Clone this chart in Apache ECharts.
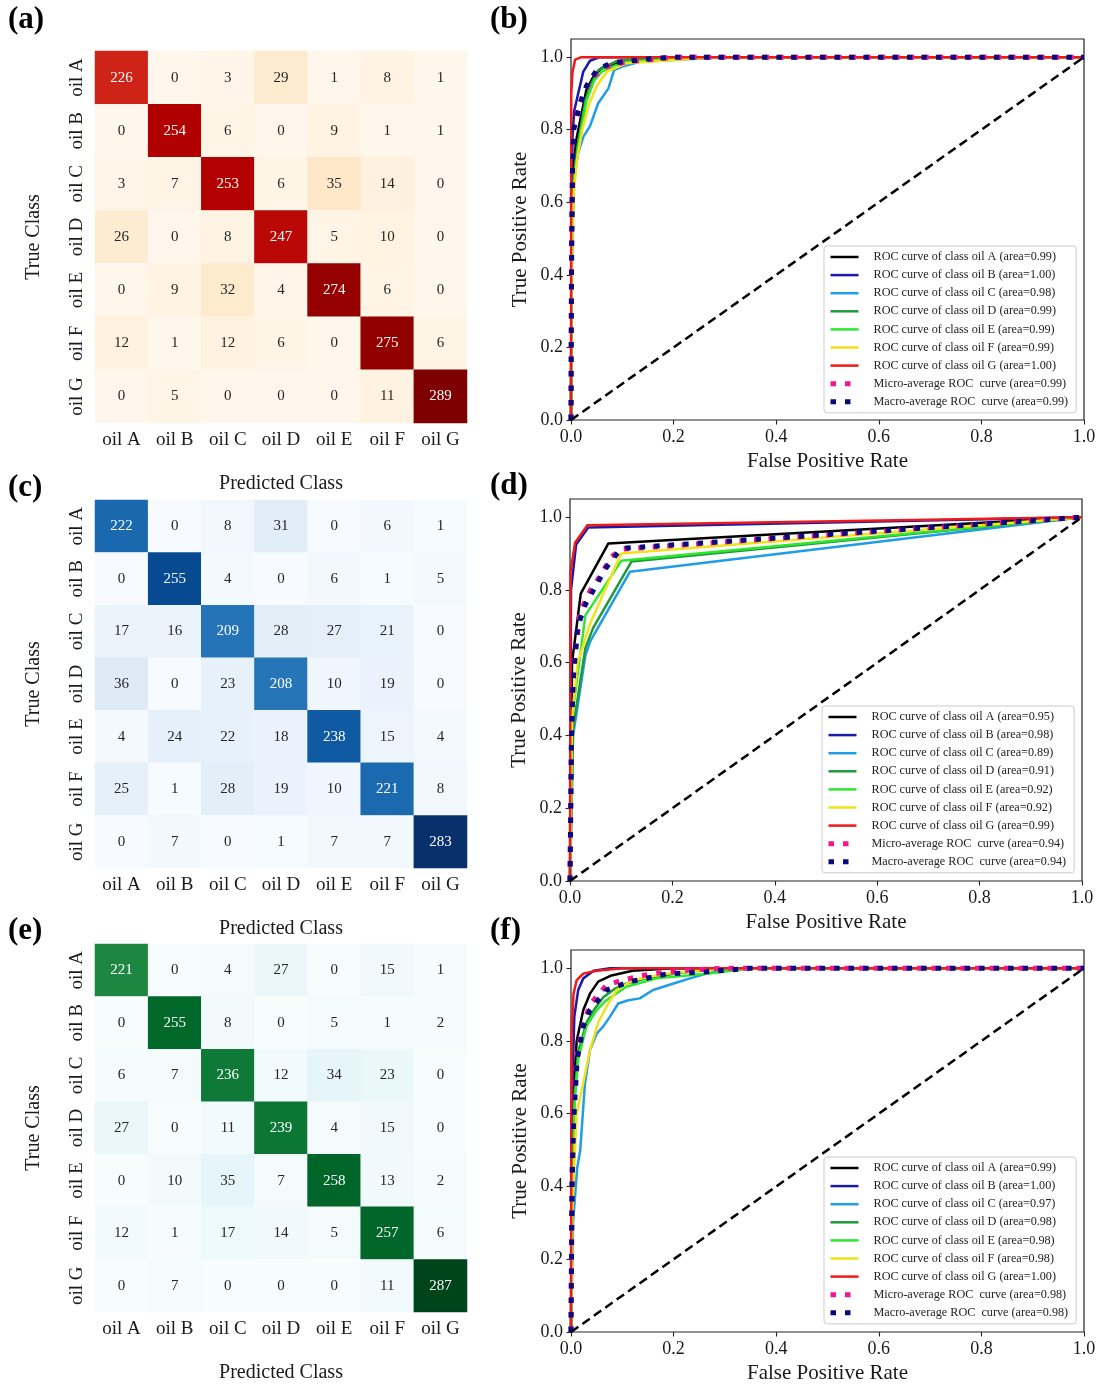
<!DOCTYPE html>
<html>
<head>
<meta charset="utf-8">
<script src="https://cdn.jsdelivr.net/npm/echarts@6/dist/echarts.min.js"></script>
<style>
  html, body { margin: 0; padding: 0; background: #fff; }
  #main { width: 1101px; height: 1385px; }
</style>
</head>
<body>
<div id="main"></div>
<script>
const FONT = 'Liberation Serif';
const classes = ['oil A', 'oil B', 'oil C', 'oil D', 'oil E', 'oil F', 'oil G'];

// confusion matrices, rows = true class, columns = predicted class
const cmA = [
  [226, 0, 3, 29, 1, 8, 1],
  [0, 254, 6, 0, 9, 1, 1],
  [3, 7, 253, 6, 35, 14, 0],
  [26, 0, 8, 247, 5, 10, 0],
  [0, 9, 32, 4, 274, 6, 0],
  [12, 1, 12, 6, 0, 275, 6],
  [0, 5, 0, 0, 0, 11, 289]
];
const cmC = [
  [222, 0, 8, 31, 0, 6, 1],
  [0, 255, 4, 0, 6, 1, 5],
  [17, 16, 209, 28, 27, 21, 0],
  [36, 0, 23, 208, 10, 19, 0],
  [4, 24, 22, 18, 238, 15, 4],
  [25, 1, 28, 19, 10, 221, 8],
  [0, 7, 0, 1, 7, 7, 283]
];
const cmE = [
  [221, 0, 4, 27, 0, 15, 1],
  [0, 255, 8, 0, 5, 1, 2],
  [6, 7, 236, 12, 34, 23, 0],
  [27, 0, 11, 239, 4, 15, 0],
  [0, 10, 35, 7, 258, 13, 2],
  [12, 1, 17, 14, 5, 257, 6],
  [0, 7, 0, 0, 0, 11, 287]
];

// colormaps
const orRd = ['#fff7ec', '#fee8c8', '#fdd49e', '#fdbb84', '#fc8d59', '#ef6548', '#d7301f', '#b30000', '#7f0000'];
const blues = ['#f7fbff', '#deebf7', '#c6dbef', '#9ecae1', '#6baed6', '#4292c6', '#2171b5', '#08519c', '#08306b'];
const buGn = ['#f7fcfd', '#e5f5f9', '#ccece6', '#99d8c9', '#66c2a4', '#41ae76', '#238b45', '#006d2c', '#00441b'];

// ROC curves: oil A..G, micro, macro  ([fpr, tpr] points)
const curveColors = ['#000000', '#1a1aa8', '#1f9de6', '#1e9a3c', '#2ee62e', '#f2e21a', '#f01818', '#f5158c', '#0a0a80'];
const rocTicks = [0, 0.2, 0.4, 0.6, 0.8, 1.0];

const areasB = ['0.99', '1.00', '0.98', '0.99', '0.99', '0.99', '1.00', '0.99', '0.99'];
const curvesB = [
  [[0, 0], [0.001, 0.45], [0.004, 0.68], [0.01, 0.77], [0.02, 0.84], [0.03, 0.91], [0.045, 0.95], [0.06, 0.97], [0.09, 0.985], [0.14, 0.995], [0.25, 1], [1, 1]],
  [[0, 0], [0.001, 0.6], [0.003, 0.78], [0.006, 0.85], [0.014, 0.9], [0.024, 0.96], [0.037, 0.99], [0.056, 1], [1, 1]],
  [[0, 0], [0.002, 0.45], [0.005, 0.62], [0.008, 0.69], [0.014, 0.736], [0.024, 0.78], [0.037, 0.81], [0.053, 0.873], [0.073, 0.914], [0.084, 0.964], [0.1, 0.974], [0.134, 0.987], [0.3, 1], [1, 1]],
  [[0, 0], [0.001, 0.45], [0.005, 0.66], [0.012, 0.75], [0.018, 0.8], [0.028, 0.88], [0.037, 0.92], [0.053, 0.964], [0.09, 0.99], [0.2, 1], [1, 1]],
  [[0, 0], [0.001, 0.4], [0.005, 0.64], [0.012, 0.73], [0.02, 0.8], [0.03, 0.88], [0.045, 0.935], [0.06, 0.96], [0.1, 0.985], [0.22, 1], [1, 1]],
  [[0, 0], [0.001, 0.4], [0.005, 0.62], [0.012, 0.72], [0.022, 0.8], [0.035, 0.87], [0.05, 0.92], [0.07, 0.96], [0.108, 0.983], [0.18, 0.99], [0.28, 1], [1, 1]],
  [[0, 0], [0.0005, 0.9], [0.003, 0.96], [0.008, 0.993], [0.02, 1], [1, 1]],
  [[0, 0], [0.001, 0.5], [0.003, 0.72], [0.005, 0.8], [0.014, 0.855], [0.024, 0.9], [0.043, 0.946], [0.07, 0.974], [0.108, 0.987], [0.2, 1], [1, 1]],
  [[0, 0], [0.001, 0.4], [0.003, 0.69], [0.005, 0.8], [0.018, 0.873], [0.03, 0.92], [0.05, 0.964], [0.076, 0.983], [0.15, 0.995], [0.2, 1], [1, 1]]
];

const areasD = ['0.95', '0.98', '0.89', '0.91', '0.92', '0.92', '0.99', '0.94', '0.94'];
const curvesD = [
  [[0, 0], [0.004, 0.6], [0.021, 0.79], [0.075, 0.928], [1, 1]],
  [[0, 0], [0.002, 0.8], [0.012, 0.925], [0.036, 0.972], [1, 1]],
  [[0, 0], [0.006, 0.4], [0.03, 0.62], [0.04, 0.66], [0.117, 0.85], [1, 1]],
  [[0, 0], [0.006, 0.42], [0.03, 0.64], [0.045, 0.695], [0.12, 0.878], [1, 1]],
  [[0, 0], [0.004, 0.45], [0.03, 0.73], [0.1, 0.88], [1, 1]],
  [[0, 0], [0.004, 0.45], [0.015, 0.6], [0.04, 0.71], [0.1, 0.9], [1, 1]],
  [[0, 0], [0.001, 0.85], [0.01, 0.93], [0.034, 0.978], [1, 1]],
  [[0, 0], [0.003, 0.45], [0.008, 0.6], [0.02, 0.74], [0.04, 0.8], [0.06, 0.84], [0.08, 0.89], [0.1, 0.912], [1, 1]],
  [[0, 0], [0.003, 0.4], [0.006, 0.55], [0.015, 0.7], [0.03, 0.76], [0.05, 0.81], [0.07, 0.86], [0.095, 0.905], [0.11, 0.915], [1, 1]]
];

const areasF = ['0.99', '1.00', '0.97', '0.98', '0.98', '0.98', '1.00', '0.98', '0.98'];
const curvesF = [
  [[0, 0], [0.002, 0.45], [0.006, 0.68], [0.011, 0.8], [0.024, 0.885], [0.037, 0.93], [0.053, 0.963], [0.079, 0.98], [0.12, 0.993], [0.2, 1], [1, 1]],
  [[0, 0], [0.001, 0.6], [0.0065, 0.867], [0.014, 0.94], [0.024, 0.972], [0.044, 0.993], [0.076, 1], [1, 1]],
  [[0, 0], [0.004, 0.3], [0.012, 0.45], [0.018, 0.5], [0.027, 0.68], [0.037, 0.775], [0.05, 0.82], [0.063, 0.84], [0.076, 0.867], [0.092, 0.903], [0.112, 0.912], [0.134, 0.917], [0.16, 0.94], [0.2, 0.958], [0.232, 0.972], [0.264, 0.985], [0.3, 0.995], [0.35, 1], [1, 1]],
  [[0, 0], [0.002, 0.4], [0.007, 0.65], [0.014, 0.77], [0.03, 0.85], [0.047, 0.89], [0.063, 0.92], [0.086, 0.944], [0.108, 0.958], [0.147, 0.972], [0.21, 0.987], [0.3, 1], [1, 1]],
  [[0, 0], [0.002, 0.4], [0.007, 0.63], [0.014, 0.75], [0.03, 0.84], [0.05, 0.885], [0.069, 0.912], [0.108, 0.949], [0.167, 0.972], [0.264, 0.985], [0.33, 0.996], [0.35, 1], [1, 1]],
  [[0, 0], [0.003, 0.35], [0.011, 0.6], [0.024, 0.685], [0.037, 0.775], [0.053, 0.85], [0.069, 0.894], [0.089, 0.94], [0.12, 0.967], [0.186, 0.985], [0.3, 1], [1, 1]],
  [[0, 0], [0.001, 0.82], [0.005, 0.93], [0.011, 0.967], [0.024, 0.985], [0.05, 0.993], [0.1, 1], [1, 1]],
  [[0, 0], [0.002, 0.45], [0.005, 0.64], [0.011, 0.75], [0.021, 0.83], [0.037, 0.9], [0.069, 0.953], [0.1, 0.967], [0.154, 0.984], [0.23, 0.995], [0.3, 1], [1, 1]],
  [[0, 0], [0.002, 0.4], [0.005, 0.574], [0.012, 0.75], [0.024, 0.84], [0.037, 0.885], [0.069, 0.94], [0.115, 0.963], [0.186, 0.984], [0.264, 0.99], [0.35, 1], [1, 1]]
];

const grid = [], xAxis = [], yAxis = [], series = [], visualMap = [], legend = [];
const axisText = { fontFamily: FONT, color: '#1a1a1a' };

function addHeat(cm, cmap, top, height) {
  const i = grid.length;
  grid.push({ left: 95, top: top, width: 372, height: height });
  xAxis.push({
    type: 'category', gridIndex: i, data: classes,
    name: 'Predicted Class', nameLocation: 'middle', nameGap: 51,
    nameTextStyle: Object.assign({ fontSize: 20 }, axisText),
    axisLine: { show: false },
    axisTick: { alignWithLabel: true, length: 4, lineStyle: { color: '#333' } },
    axisLabel: Object.assign({ interval: 0, margin: 8, fontSize: 19 }, axisText),
    splitLine: { show: false }
  });
  yAxis.push({
    type: 'category', gridIndex: i, data: classes, inverse: true,
    name: 'True Class', nameLocation: 'middle', nameGap: 51,
    nameTextStyle: Object.assign({ fontSize: 20 }, axisText),
    axisLine: { show: false },
    axisTick: { alignWithLabel: true, length: 4, lineStyle: { color: '#333' } },
    axisLabel: Object.assign({ interval: 0, rotate: 90, margin: 8, fontSize: 19 }, axisText),
    splitLine: { show: false }
  });
  let max = 0;
  const data = [];
  cm.forEach((row, r) => row.forEach((v, c) => {
    max = Math.max(max, v);
    data.push({ value: [c, r, v], label: { color: v > 100 ? '#ffffff' : '#262626' } });
  }));
  visualMap.push({ type: 'continuous', show: false, seriesIndex: series.length, dimension: 2, min: 0, max: max, inRange: { color: cmap } });
  series.push({
    type: 'heatmap', xAxisIndex: i, yAxisIndex: i, data: data, silent: true,
    label: { show: true, fontFamily: FONT, fontSize: 15, formatter: p => p.value[2] },
    emphasis: { disabled: true }
  });
}

function addRoc(curves, areas, left, top, width, height, legendLeft, legendTop) {
  const i = grid.length;
  grid.push({ left: left, top: top, width: width, height: height, show: true, borderColor: '#222', borderWidth: 1.2, backgroundColor: 'transparent' });
  const tick = { show: true, length: 4.5, lineStyle: { color: '#222', width: 1.1 }, customValues: rocTicks };
  const lab = Object.assign({ fontSize: 18, margin: 8, customValues: rocTicks, formatter: v => v.toFixed(1) }, axisText);
  xAxis.push({
    type: 'value', gridIndex: i, min: 0, max: 1,
    name: 'False Positive Rate', nameLocation: 'middle', nameGap: 31,
    nameTextStyle: Object.assign({ fontSize: 21 }, axisText),
    axisLine: { show: false }, axisTick: tick, axisLabel: lab, splitLine: { show: false }
  });
  yAxis.push({
    type: 'value', gridIndex: i, min: 0, max: 1.05,
    name: 'True Positive Rate', nameLocation: 'middle', nameGap: 40,
    nameTextStyle: Object.assign({ fontSize: 21 }, axisText),
    axisLine: { show: false }, axisTick: tick, axisLabel: lab, splitLine: { show: false }
  });
  const names = [];
  curves.forEach((pts, k) => {
    const name = k < 7
      ? 'ROC curve of class ' + classes[k] + ' (area=' + areas[k] + ')'
      : (k === 7 ? 'Micro' : 'Macro') + '-average ROC  curve (area=' + areas[k] + ')';
    names.push(name);
    series.push({
      type: 'line', name: name, xAxisIndex: i, yAxisIndex: i, data: pts,
      symbol: 'none', showSymbol: false, silent: true, z: 3 + k, animation: false,
      itemStyle: { color: curveColors[k] },
      lineStyle: k < 7
        ? { color: curveColors[k], width: 2.5 }
        : { color: curveColors[k], width: 5, type: [5.5, 9], cap: 'butt' }
    });
  });
  // chance diagonal
  series.push({
    type: 'line', xAxisIndex: i, yAxisIndex: i, data: [[0, 0], [1, 1]],
    symbol: 'none', silent: true, z: 20, animation: false,
    lineStyle: { color: '#000', width: 2.5, type: [9, 5] }
  });
  legend.push({
    data: names, orient: 'vertical', left: legendLeft, top: legendTop,
    selectedMode: false, itemWidth: 28, itemHeight: 14, itemGap: 4.1,
    itemStyle: { opacity: 0 },
    lineStyle: { width: 'inherit' },
    padding: [4, 8, 4, 4],
    backgroundColor: 'rgba(255,255,255,0.85)', borderColor: '#cccccc', borderWidth: 1, borderRadius: 3,
    textStyle: { fontFamily: FONT, fontSize: 12.2, color: '#222', lineHeight: 14, padding: [0, 0, 0, 10] }
  });
}

addHeat(cmA, orRd, 51, 372);
addHeat(cmC, blues, 500, 368);
addHeat(cmE, buGn, 944, 368);
addRoc(curvesB, areasB, 571, 39, 513, 381, 824, 246);
addRoc(curvesD, areasD, 570, 499, 512, 382, 822, 706);
addRoc(curvesF, areasF, 571, 950, 513, 382, 824, 1157);

const panelLetters = [['(a)', 8, 4], ['(b)', 490, 4], ['(c)', 8, 472], ['(d)', 490, 470], ['(e)', 8, 915], ['(f)', 490, 915]];

const chart = echarts.init(document.getElementById('main'));
chart.setOption({
  backgroundColor: '#ffffff',
  animation: false,
  grid: grid, xAxis: xAxis, yAxis: yAxis,
  visualMap: visualMap, legend: legend, series: series,
  graphic: panelLetters.map(p => ({
    type: 'text', left: p[1], top: p[2],
    style: { text: p[0], font: 'bold 31px "Liberation Serif"', fill: '#000' }
  }))
});
</script>
</body>
</html>
